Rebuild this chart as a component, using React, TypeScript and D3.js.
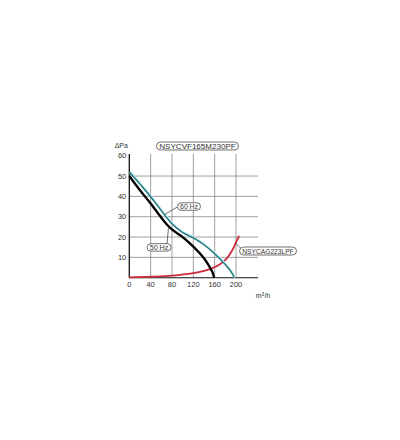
import React from "react";
import * as d3 from "d3";

// Data (airflow m³/h vs static pressure Pa)
const hz60X = [0, 20, 40, 60, 80, 100, 120, 140, 160, 170, 180, 190, 197];
const hz60Y = [52, 46, 39.8, 33, 26.5, 22.2, 19.6, 16.2, 11.8, 9.2, 6.4, 3.2, 0];
const hz50X = [0, 20, 40, 60, 70, 80, 90, 100, 120, 140, 150, 156, 159];
const hz50Y = [50, 43, 36.5, 29.5, 26.3, 23.8, 21.8, 20, 15.3, 9.6, 5.6, 2.6, 0];
const sysX = [0, 40, 80, 120, 140, 155, 170, 182, 192, 201, 206];
const sysY = [0.2, 0.5, 1, 2.2, 3.3, 4.6, 6.6, 9.3, 13, 18, 20.5];
const xTicks = [0, 40, 80, 120, 160, 200];
const yTicks = [10, 20, 30, 40, 50, 60];
const vGrid = [40, 80, 120, 160, 200];
const hGrid = [10, 20, 30, 40, 50];
const titleText = "NSYCVF165M230PF";
const sysLabel = "NSYCAG223LPF";

const FONT = "'Liberation Sans', Arial, sans-serif";

export default function App() {
  const x = d3.scaleLinear().domain([0, 200]).range([129.3, 236]);
  const y = d3.scaleLinear().domain([0, 60]).range([277.7, 155.7]);

  const line = d3
    .line<[number, number]>()
    .x((d) => x(d[0]))
    .y((d) => y(d[1]))
    .curve(d3.curveCatmullRom.alpha(0.5));

  const zip = (a: number[], b: number[]) => a.map((v, i) => [v, b[i]] as [number, number]);
  const p60 = line(zip(hz60X, hz60Y)) || "";
  const p50 = line(zip(hz50X, hz50Y)) || "";
  const pSys = line(zip(sysX, sysY)) || "";

  const gridRight = 258;
  const gridTop = 154;

  const pill = (cx: number, cy: number, w: number, h: number, text: string, fs: number) => (
    <g>
      <rect x={cx - w / 2} y={cy - h / 2} width={w} height={h} rx={h / 2} ry={h / 2}
        fill="#fff" stroke="#333" strokeWidth={0.7} />
      <text x={cx} y={cy} textAnchor="middle" dominantBaseline="central"
        fontSize={fs} fill="#333" fontFamily={FONT}
        textLength={w - h * 0.7} lengthAdjust="spacingAndGlyphs">{text}</text>
    </g>
  );

  return (
    <svg width={400} height={440} style={{ position: "absolute", left: 0, top: 0, background: "#fff" }}>
      <rect width={400} height={440} fill="#fff" />
      {/* grid */}
      {vGrid.map((v) => (
        <line key={"v" + v} x1={x(v)} x2={x(v)} y1={gridTop} y2={y(0)} stroke="#777" strokeWidth={0.7} />
      ))}
      {hGrid.map((v) => (
        <line key={"h" + v} x1={x(0)} x2={gridRight} y1={y(v)} y2={y(v)} stroke="#777" strokeWidth={0.7} />
      ))}
      {/* axes */}
      <line x1={x(0)} x2={x(0)} y1={gridTop} y2={y(0)} stroke="#111" strokeWidth={1.3} />
      <line x1={x(0)} x2={gridRight} y1={y(0)} y2={y(0)} stroke="#111" strokeWidth={1.1} />

      {/* curves */}
      <path d={pSys} fill="none" stroke="#cc2a3d" strokeWidth={1.8} />
      <path d={p60} fill="none" stroke="#bfeef0" strokeWidth={2.6} transform="translate(0.6,0)" />
      <path d={p60} fill="none" stroke="#1d6f76" strokeWidth={1.3} />
      <path d={p50} fill="none" stroke="#000" strokeWidth={2.3} />

      {/* tick labels */}
      {yTicks.map((v) => (
        <text key={"yt" + v} x={x(0) - 3} y={y(v)} textAnchor="end" dominantBaseline="central"
          fontSize={7.5} fill="#333" fontFamily={FONT}>{v}</text>
      ))}
      {xTicks.map((v) => (
        <text key={"xt" + v} x={x(v)} y={y(0) + 9} textAnchor="middle"
          fontSize={7.5} fill="#333" fontFamily={FONT}>{v}</text>
      ))}
      <text x={x(0) - 8} y={148} textAnchor="middle" fontSize={7} fill="#333" fontFamily={FONT}>ΔPa</text>
      <text x={263} y={298} textAnchor="middle" fontSize={7} fill="#333" fontFamily={FONT}>
        m<tspan dy={-2.5} fontSize={5}>3</tspan><tspan dy={2.5}>/h</tspan>
      </text>

      {/* leaders */}
      <line x1={x(66.9)} y1={y(31.2)} x2={x(90.3)} y2={y(34.8)} stroke="#333" strokeWidth={0.7} />
      <line x1={x(73.5)} y1={y(24.8)} x2={x(70.7)} y2={y(16.6)} stroke="#333" strokeWidth={0.7} />
      <line x1={x(199)} y1={y(17.1)} x2={x(209.4)} y2={y(14.4)} stroke="#333" strokeWidth={0.7} />

      {/* labels */}
      {pill(197.5, 146, 82, 8, titleText, 7)}
      {pill(x(111.9), y(35), 23, 7.5, "60 Hz", 7)}
      {pill(x(55.7), y(14.9), 24, 7.5, "50 Hz", 7)}
      {pill(268, 251, 57, 8, sysLabel, 7)}
    </svg>
  );
}
